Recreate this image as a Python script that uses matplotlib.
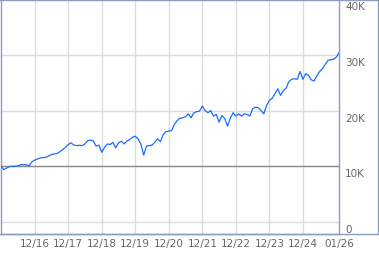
import matplotlib

matplotlib.use("Agg")

import matplotlib.pyplot as plt
from matplotlib.lines import Line2D
from matplotlib.transforms import ScaledTranslation

# Growth of 10K, monthly, month 0 = Dec 2015
values_k = [
    10.0, 9.4, 9.7, 9.95, 10.0, 10.0, 10.05, 10.3, 10.3, 10.25,
    10.1, 10.8, 11.1, 11.3, 11.5, 11.55, 11.6, 11.85, 12.1, 12.2,
    12.3, 12.6, 13.0, 13.4, 13.9, 14.2, 13.8, 13.7, 13.75, 13.7,
    14.0, 14.6, 14.7, 14.5, 13.6, 13.8, 12.5, 13.4, 14.0, 13.9,
    14.3, 13.3, 14.2, 14.5, 14.0, 14.5, 14.8, 15.2, 15.4, 14.9,
    14.0, 12.0, 13.6, 13.7, 13.8, 14.3, 14.9, 14.4, 15.7, 16.2,
    16.3, 16.4, 17.5, 18.2, 18.6, 18.7, 18.9, 19.4, 18.7, 19.6,
    19.8, 19.9, 20.8, 20.0, 19.6, 20.0, 19.0, 19.3, 17.9, 19.1,
    18.6, 17.2, 18.6, 19.6, 19.0, 19.4, 19.0, 19.4, 19.3, 19.0,
    20.3, 20.6, 20.5, 20.0, 19.4, 20.9, 21.8, 22.2, 23.0, 23.9,
    22.7, 23.6, 24.0, 25.2, 25.6, 25.7, 25.6, 27.0, 25.6, 26.6,
    26.3, 25.5, 25.3, 26.2, 27.0, 27.5, 28.3, 29.0, 29.1, 29.2,
    29.6, 30.4,
]
months = list(range(len(values_k)))

x_tick_months = [12, 24, 36, 48, 60, 72, 84, 96, 108, 121]
x_tick_labels = ["12/16", "12/17", "12/18", "12/19", "12/20",
                 "12/21", "12/22", "12/23", "12/24", "01/26"]
y_ticks = [0, 10, 20, 30, 40]
y_tick_labels = ["0", "10K", "20K", "30K", "40K"]
base_value = 10

W, H = 379, 255
BORDER = "#8a9dba"
TEXT = "#666666"

fig = plt.figure(figsize=(W / 100, H / 100), dpi=100)
ax = fig.add_axes([0.5 / W, 20 / H, 339 / W, 235 / H])

ax.plot(months, values_k, color="#1a6cff", linewidth=0.9, zorder=3)
ax.axhline(base_value, color="#8c8c8c", linewidth=1.0, zorder=2)

ax.set_xlim(-0.25, 121.1)
ax.set_ylim(-2.15, 40.0)

ax.grid(True, color="#dcdcdc", linewidth=1.0, zorder=1)
ax.set_xticks(x_tick_months)
ax.set_xticklabels(x_tick_labels)
# last label sits on the right border, no grid line there
ax.xaxis.get_gridlines()[-1].set_visible(False)

ax.set_yticks(y_ticks)
ax.set_yticklabels(y_tick_labels)
ax.yaxis.tick_right()
ax.tick_params(axis="both", length=0, labelsize=7.5, labelcolor=TEXT)
ax.tick_params(axis="x", pad=3)
ax.tick_params(axis="y", pad=4)
shift = ScaledTranslation(0, -2 / 100, fig.dpi_scale_trans)
for lbl in ax.get_yticklabels():
    lbl.set_va("top")
    lbl.set_transform(lbl.get_transform() + shift)

for side in ["left", "top", "right", "bottom"]:
    ax.spines[side].set_color(BORDER)
    ax.spines[side].set_linewidth(1.0)

# outer frame around the label column
y_bot = 20 / H
fig.add_artist(Line2D([0, 1], [1 - 0.5 / H, 1 - 0.5 / H], color=BORDER, linewidth=1.0))
fig.add_artist(Line2D([0, 1], [y_bot, y_bot], color=BORDER, linewidth=1.0))
fig.add_artist(Line2D([1 - 1.5 / W, 1 - 1.5 / W], [y_bot, 1], color=BORDER, linewidth=1.0))

fig.savefig("out.png", dpi=100)
